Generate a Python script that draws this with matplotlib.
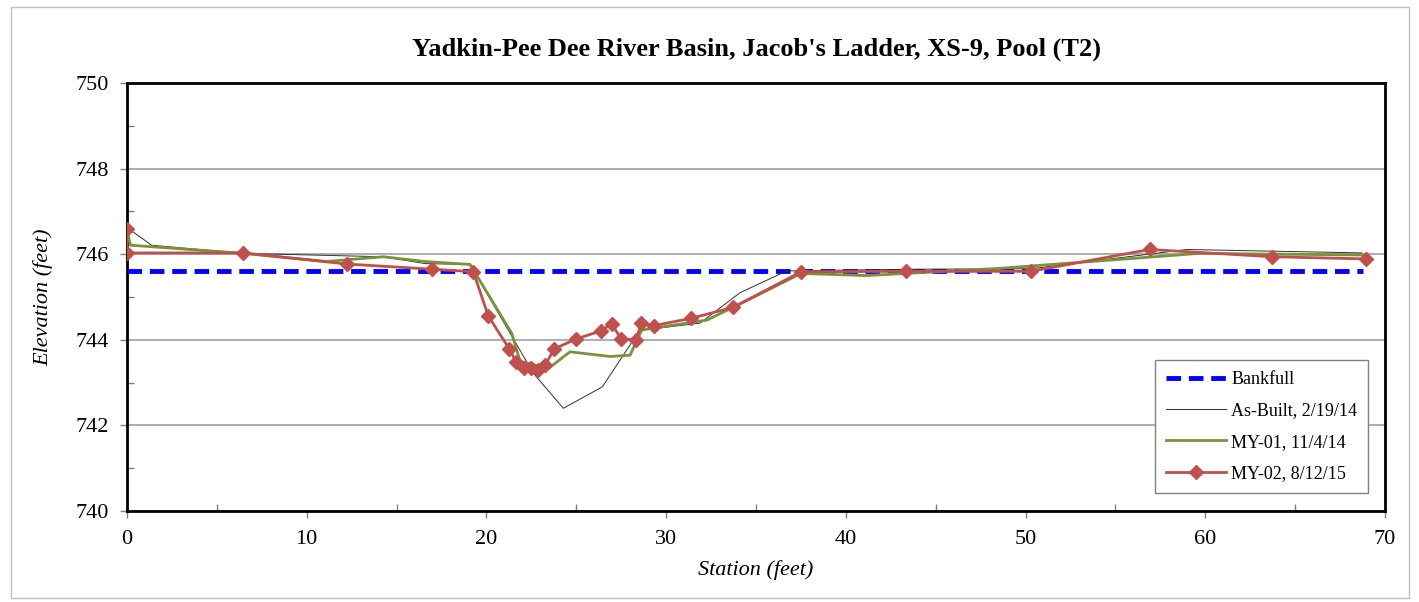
import matplotlib
matplotlib.use("Agg")
import matplotlib.pyplot as plt
from matplotlib.patches import Rectangle
from matplotlib.ticker import MultipleLocator

plt.rcParams['font.family'] = ['Liberation Serif', 'DejaVu Serif']

bankfull_x = [0, 68.8]
bankfull_y = [745.6, 745.6]

asbuilt_x = [0.07, 1.37, 6.45, 14.26, 16.6, 19.09, 22.61, 24.28, 26.45, 28.18, 28.73, 31.89, 34.11, 36.71, 43.94, 50.3, 58.97, 68.71]
asbuilt_y = [746.6, 746.21, 746.02, 745.94, 745.78, 745.76, 743.22, 742.40, 742.90, 744.0, 744.23, 744.39, 745.10, 745.61, 745.65, 745.66, 746.11, 746.03]

my01_x = [0.0, 0.2, 6.47, 11.11, 14.26, 16.58, 19.09, 21.41, 21.87, 23.45, 24.65, 26.88, 27.99, 28.64, 32.26, 33.74, 37.51, 41.16, 48.58, 59.71, 68.93]
my01_y = [746.55, 746.21, 746.02, 745.83, 745.94, 745.83, 745.76, 744.15, 743.50, 743.33, 743.72, 743.61, 743.64, 744.23, 744.46, 744.76, 745.55, 745.50, 745.67, 746.02, 745.98]

my02_x = [0.0, 0.0, 6.45, 12.24, 16.97, 19.27, 20.11, 21.27, 21.65, 22.11, 22.48, 22.85, 23.28, 23.78, 25.0, 26.38, 26.97, 27.47, 28.33, 28.62, 29.31, 31.37, 33.74, 37.51, 43.33, 50.29, 56.91, 63.74, 68.93]
my02_y = [746.59, 746.03, 746.03, 745.77, 745.65, 745.59, 744.55, 743.79, 743.48, 743.35, 743.33, 743.30, 743.42, 743.79, 744.02, 744.21, 744.38, 744.03, 743.99, 744.40, 744.33, 744.50, 744.76, 745.59, 745.60, 745.60, 746.11, 745.94, 745.89]

fig = plt.figure(figsize=(14.19, 6.02), dpi=100)
fig.patches.append(Rectangle((11/1419, 4/602), 1398/1419, 591/602, transform=fig.transFigure,
                             fill=False, edgecolor='#c0c0c0', linewidth=1))
ax = fig.add_axes([127/1419, 1 - 511/602, (1385 - 127)/1419, (511 - 83)/602])

ax.plot(bankfull_x, bankfull_y, color='#0000ff', linestyle=(0, (3, 1.6)), linewidth=3.5, label='Bankfull', zorder=3)
ax.plot(asbuilt_x, asbuilt_y, color='#303030', linewidth=0.7, label='As-Built, 2/19/14', zorder=4)
ax.plot(my01_x, my01_y, color='#77933c', linewidth=2, label='MY-01, 11/4/14', zorder=5)
ax.plot(my02_x, my02_y, color='#c0504d', linewidth=2, marker='D', markersize=7.5, label='MY-02, 8/12/15', zorder=6)

ax.set_xlim(0, 70)
ax.set_ylim(740, 750)
ax.xaxis.set_major_locator(MultipleLocator(10))
ax.xaxis.set_minor_locator(MultipleLocator(5))
ax.yaxis.set_major_locator(MultipleLocator(2))
ax.yaxis.set_minor_locator(MultipleLocator(1))
ax.tick_params(which='major', direction='out', length=5, width=1, labelsize=16, color='#808080')
ax.tick_params(axis='y', which='major', pad=8)
ax.tick_params(axis='x', which='major', pad=9)
ax.tick_params(which='minor', direction='in', length=5, width=1, color='#808080')
ax.grid(True, which='major', axis='y', color='#a0a0a0', linewidth=1.2)
ax.set_axisbelow(True)
for s in ax.spines.values():
    s.set_linewidth(2)
    s.set_color('black')

ax.set_xlabel('Station (feet)', fontsize=16, style='italic', labelpad=8)
ax.set_ylabel('Elevation (feet)', fontsize=16, style='italic', labelpad=16)
ax.set_title("Yadkin-Pee Dee River Basin, Jacob's Ladder, XS-9, Pool (T2)", fontsize=19, fontweight='bold', pad=20)

leg = ax.legend(loc='lower right', bbox_to_anchor=(0.9865, 0.042), fontsize=13, frameon=True, fancybox=False,
                edgecolor='#808080', framealpha=1, borderpad=0.6, labelspacing=0.8, handlelength=3.3,
                handletextpad=0.3, borderaxespad=0)
leg.get_frame().set_linewidth(1)

fig.savefig('out.png', dpi=100)
